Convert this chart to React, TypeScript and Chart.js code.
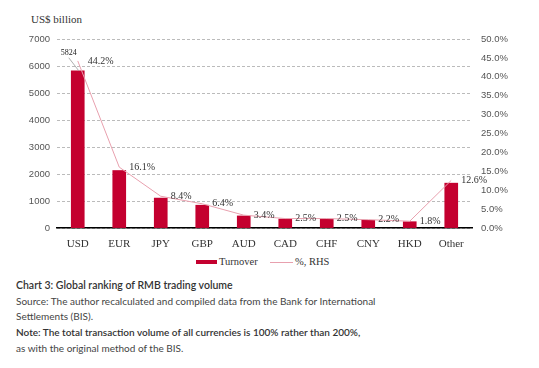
import React, { useEffect, useRef } from "react";
import { Chart, registerables } from "chart.js";

Chart.register(...registerables);

const categories = ["USD", "EUR", "JPY", "GBP", "AUD", "CAD", "CHF", "CNY", "HKD", "Other"];
const turnover = [5824, 2129, 1108, 844, 447, 332, 327, 285, 233, 1661];
const shareRHS = [44.2, 16.1, 8.4, 6.4, 3.4, 2.5, 2.5, 2.2, 1.8, 12.6];
const calloutIndex = 0;
const calloutText = "5824";

const BAR = "#c4002f";
const LINE = "#e8a0ae";
const SERIF = "'Liberation Serif', 'DejaVu Serif', serif";
const SANS = "'Liberation Sans', Arial, sans-serif";
const CAPTION = "Lato, 'Noto Sans', sans-serif";

const labelPlugin = {
  id: "labels",
  afterDatasetsDraw(chart: any) {
    const ctx = chart.ctx;
    ctx.save();
    const lineMeta = chart.getDatasetMeta(1);
    ctx.font = `10px ${SERIF}`;
    ctx.fillStyle = "#333";
    ctx.textAlign = "left";
    ctx.textBaseline = "middle";
    lineMeta.data.forEach((pt: any, i: number) => {
      ctx.fillText(shareRHS[i].toFixed(1) + "%", pt.x + 10, pt.y);
    });
    const bar = chart.getDatasetMeta(0).data[calloutIndex];
    if (bar) {
      ctx.strokeStyle = "#999";
      ctx.lineWidth = 0.8;
      ctx.beginPath();
      ctx.moveTo(bar.x - 9, bar.y - 13);
      ctx.lineTo(bar.x + 1, bar.y);
      ctx.stroke();
      ctx.font = `8px ${SERIF}`;
      ctx.textAlign = "center";
      ctx.textBaseline = "middle";
      ctx.fillStyle = "#222";
      ctx.fillText(calloutText, bar.x - 9, bar.y - 18);
    }
    ctx.restore();
  },
};

function ChartCanvas() {
  const ref = useRef<HTMLCanvasElement>(null);
  useEffect(() => {
    if (!ref.current) return;
    const chart = new Chart(ref.current, {
      type: "bar",
      data: {
        labels: categories,
        datasets: [
          {
            type: "bar",
            label: "Turnover",
            data: turnover,
            backgroundColor: BAR,
            barThickness: 13,
            yAxisID: "y",
            order: 1,
          },
          {
            type: "line",
            label: "%, RHS",
            data: shareRHS,
            borderColor: LINE,
            borderWidth: 1,
            pointRadius: 0,
            tension: 0,
            yAxisID: "y1",
            order: 0,
          },
        ] as any,
      },
      options: {
        responsive: false,
        animation: false,
        layout: { padding: { top: 39, bottom: 0, left: 0, right: 0 } },
        plugins: { legend: { display: false }, tooltip: { enabled: false } },
        scales: {
          x: {
            offset: true,
            grid: { display: false },
            border: { display: true, color: "#000", width: 1.5 },
            ticks: { font: { family: SERIF, size: 11 }, color: "#333", padding: 2 },
            afterFit: (s: any) => { s.height = 22; },
          },
          y: {
            position: "left",
            min: 0,
            max: 7000,
            ticks: {
              stepSize: 1000,
              font: { family: SANS, size: 9.5 },
              color: "#555",
              padding: 7,
              callback: (v: any) => String(v),
            },
            grid: { color: "#aaa", drawTicks: false, lineWidth: 0.8 },
            border: { display: false, dash: [3, 2] },
            afterFit: (s: any) => { s.width = 57; },
          },
          y1: {
            position: "right",
            min: 0,
            max: 50,
            ticks: {
              stepSize: 5,
              font: { family: SANS, size: 9.5 },
              color: "#555",
              padding: 9,
              callback: (v: any) => Number(v).toFixed(1) + "%",
            },
            grid: { display: false, drawTicks: false },
            border: { display: false },
            afterFit: (s: any) => { s.width = 67; },
          },
        },
      } as any,
      plugins: [labelPlugin],
    });
    return () => chart.destroy();
  }, []);
  return (
    <canvas
      ref={ref}
      width={539}
      height={250}
      style={{ position: "absolute", left: 0, top: 0, width: 539, height: 250 }}
    />
  );
}

export default function App() {
  const line = (top: number, text: string, weight: number, color: string, size: number) => (
    <div
      style={{
        position: "absolute",
        left: 16,
        top,
        fontFamily: CAPTION,
        fontSize: size,
        fontWeight: weight,
        color,
        whiteSpace: "nowrap",
        lineHeight: "14px",
      }}
    >
      {text}
    </div>
  );
  return (
    <div style={{ position: "absolute", left: 0, top: 0, width: 539, height: 368, background: "#fff", overflow: "hidden" }}>
      <div style={{ position: "absolute", left: 31, top: 13, fontFamily: SERIF, fontSize: 11, color: "#333" }}>US$ billion</div>
      <ChartCanvas />
      <div style={{ position: "absolute", left: 196, top: 260, width: 21, height: 4, background: BAR }} />
      <div style={{ position: "absolute", left: 219, top: 255, fontFamily: SERIF, fontSize: 10.5, color: "#333", lineHeight: "14px" }}>Turnover</div>
      <div style={{ position: "absolute", left: 270, top: 262, width: 23, height: 1, background: LINE }} />
      <div style={{ position: "absolute", left: 295, top: 255, fontFamily: SERIF, fontSize: 10.5, color: "#333", lineHeight: "14px" }}>%, RHS</div>
      {line(278, "Chart 3: Global ranking of RMB trading volume", 600, "#333", 10.5)}
      {line(294, "Source: The author recalculated and compiled data from the Bank for International", 400, "#444", 10)}
      {line(309, "Settlements (BIS).", 400, "#444", 10)}
      {line(325, "Note: The total transaction volume of all currencies is 100% rather than 200%,", 600, "#333", 10)}
      {line(341, "as with the original method of the BIS.", 400, "#444", 10)}
    </div>
  );
}
